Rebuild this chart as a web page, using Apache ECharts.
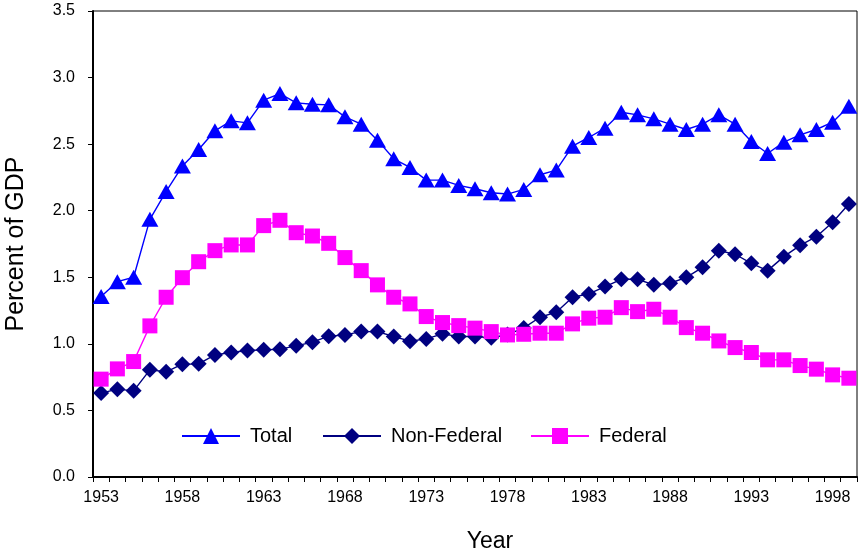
<!DOCTYPE html>
<html><head><meta charset="utf-8">
<script src="https://cdn.jsdelivr.net/npm/echarts@6/dist/echarts.min.js"></script>
<style>html,body{margin:0;padding:0;background:#fff}#c{width:859px;height:554px}</style>
</head><body><div id="c"></div>
<script>
const years = [];
for (let y = 1953; y <= 1999; y++) years.push(String(y));
const total = [1.355,1.467,1.50,1.935,2.145,2.335,2.46,2.60,2.675,2.66,2.83,2.88,2.81,2.80,2.795,2.705,2.65,2.53,2.39,2.325,2.23,2.23,2.19,2.165,2.135,2.125,2.16,2.27,2.305,2.485,2.55,2.62,2.74,2.72,2.69,2.65,2.61,2.65,2.72,2.65,2.52,2.43,2.515,2.57,2.61,2.665,2.785];
const nonFederal = [0.63,0.66,0.647,0.805,0.79,0.847,0.85,0.917,0.935,0.95,0.955,0.96,0.985,1.013,1.058,1.067,1.092,1.092,1.055,1.02,1.037,1.075,1.055,1.055,1.045,1.07,1.12,1.20,1.238,1.35,1.375,1.43,1.485,1.485,1.443,1.455,1.50,1.575,1.70,1.673,1.605,1.55,1.655,1.74,1.805,1.913,2.05];
const federal = [0.735,0.812,0.867,1.135,1.35,1.497,1.617,1.70,1.743,1.743,1.888,1.928,1.835,1.81,1.755,1.648,1.55,1.443,1.35,1.30,1.205,1.16,1.137,1.118,1.092,1.067,1.072,1.08,1.08,1.15,1.193,1.20,1.272,1.242,1.26,1.20,1.122,1.08,1.022,0.972,0.935,0.88,0.88,0.837,0.81,0.767,0.742];
const yTicks = ['0.0','0.5','1.0','1.5','2.0','2.5','3.0','3.5'];

const font = 'Liberation Sans, Arial, sans-serif';
const legendText = {fontFamily: font, fontSize: 20, color: '#000', padding: [0,0,0,5]};
function leg(name, left) {
  return {left: left, top: 426, itemWidth: 58, itemHeight: 20, padding: 0,
    textStyle: legendText, data: [name]};
}
const chart = echarts.init(document.getElementById('c'), null, {renderer:'canvas'});
chart.setOption({
  animation: false,
  backgroundColor: '#fff',
  grid: {left: 93, right: 2, top: 11, bottom: 77, outerBoundsMode: 'none', containLabel: false,
    show: true, borderColor: '#000', borderWidth: 1, backgroundColor: 'transparent'},
  legend: [leg('Total', 181), leg('Non-Federal', 322), leg('Federal', 530)],
  xAxis: {
    type: 'category', data: years, boundaryGap: true,
    name: 'Year', nameLocation: 'middle', nameGap: 53,
    nameTextStyle: {fontFamily: font, fontSize: 23, color: '#000', padding: [0,0,0,30]},
    axisLine: {lineStyle: {color: '#000', width: 2}},
    axisTick: {show: true, interval: 0, length: 5, lineStyle: {color: '#000', width: 1}},
    axisLabel: {interval: 4, fontFamily: font, fontSize: 16, color: '#000', margin: 13},
    splitLine: {show: false}
  },
  yAxis: {
    type: 'value', min: 0, max: 3.5, interval: 0.5,
    name: 'Percent of GDP', nameLocation: 'middle', nameGap: 64, nameRotate: 90,
    nameTextStyle: {fontFamily: font, fontSize: 25, color: '#000'},
    axisLine: {show: true, lineStyle: {color: '#000', width: 2}},
    axisTick: {show: true, length: 5, lineStyle: {color: '#000', width: 1}},
    axisLabel: {fontFamily: font, fontSize: 16, color: '#000', margin: 18,
      formatter: v => yTicks[Math.round(v / 0.5)]},
    splitLine: {show: false}
  },
  series: [
    {name: 'Total', type: 'line', data: total, symbol: 'triangle', symbolSize: [17, 15], showAllSymbol: true,
     itemStyle: {color: '#0000FF'}, lineStyle: {color: '#0000FF', width: 1.4}, z: 3},
    {name: 'Non-Federal', type: 'line', data: nonFederal, symbol: 'diamond', symbolSize: [16, 16], showAllSymbol: true,
     itemStyle: {color: '#000080'}, lineStyle: {color: '#000080', width: 1.4}, z: 2},
    {name: 'Federal', type: 'line', data: federal, symbol: 'rect', symbolSize: [15, 15], showAllSymbol: true,
     itemStyle: {color: '#FF00FF'}, lineStyle: {color: '#FF00FF', width: 1.4}, z: 4}
  ]
});
</script></body></html>
